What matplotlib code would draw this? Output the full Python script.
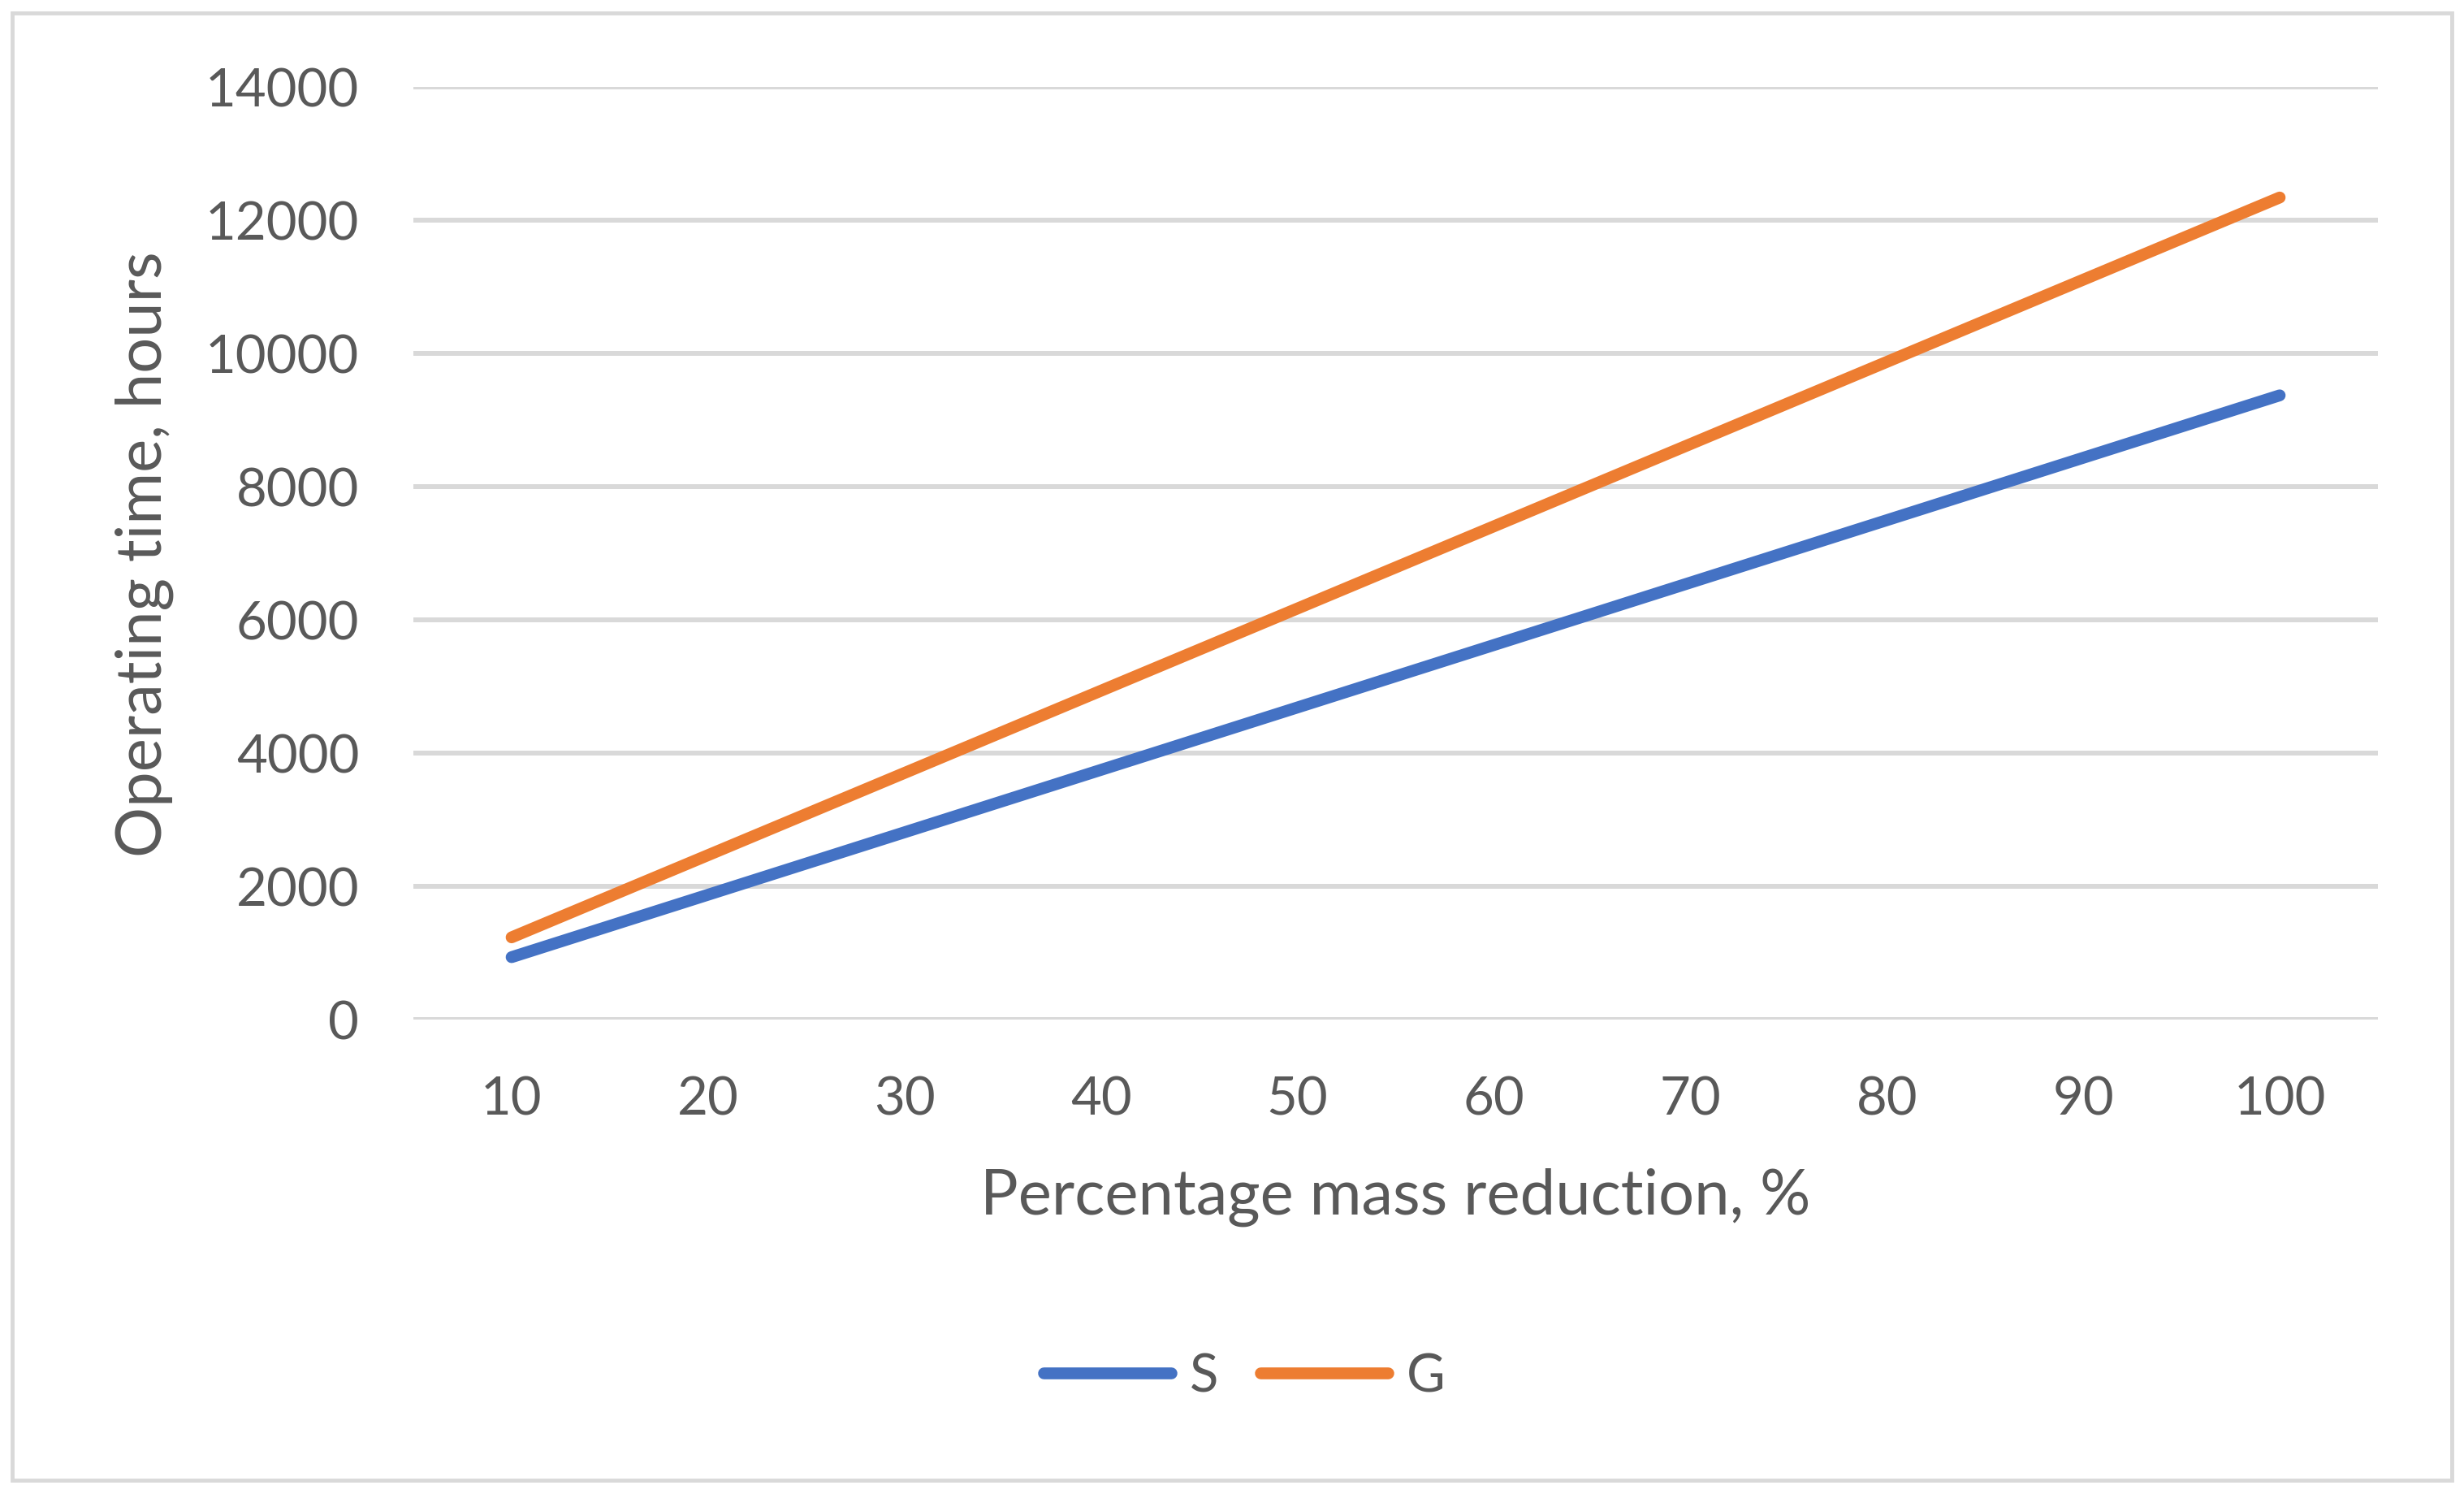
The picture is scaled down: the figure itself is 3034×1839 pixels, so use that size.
import matplotlib
matplotlib.use("Agg")
import matplotlib.pyplot as plt
from matplotlib.patches import Rectangle

reduction = [10, 20, 30, 40, 50, 60, 70, 80, 90, 100]
s_hours = [937, 1874, 2811, 3748, 4685, 5622, 6559, 7496, 8433, 9370]
g_hours = [1234, 2468, 3702, 4936, 6170, 7404, 8638, 9872, 11106, 12340]
y_ticks = [0, 2000, 4000, 6000, 8000, 10000, 12000, 14000]

plt.rcParams['font.family'] = ['Lato', 'DejaVu Sans']
TXT = '#595959'
GRID = '#D9D9D9'

fig = plt.figure(figsize=(30.34, 18.4), dpi=100)
fig.patches.append(Rectangle((15/3034, 17/1840), (3019-15)/3034, (1823-17)/1840,
                             transform=fig.transFigure, fill=False,
                             edgecolor=GRID, linewidth=3.5, zorder=0))

ax = fig.add_axes([509/3034, 1 - 1256/1840, (2928-509)/3034, (1256-108)/1840])
xpos = list(range(1, len(reduction) + 1))
ax.plot(xpos, s_hours, color='#4472C4', lw=10.5, solid_capstyle='round', label='S', zorder=3)
ax.plot(xpos, g_hours, color='#ED7D31', lw=10.5, solid_capstyle='round', label='G', zorder=3)

ax.set_xlim(0.5, len(reduction) + 0.5)
ax.set_ylim(0, 14000)
ax.set_yticks(y_ticks)
ax.set_yticklabels([str(v) for v in y_ticks])
ax.set_xticks(xpos)
ax.set_xticklabels([str(v) for v in reduction])
ax.grid(axis='y', color=GRID, lw=4.3)
ax.set_axisbelow(True)
for sp in ax.spines.values():
    sp.set_visible(False)
ax.tick_params(axis='both', length=0, labelsize=47, colors=TXT)
ax.tick_params(axis='x', pad=49)
ax.tick_params(axis='y', pad=48)

ax.set_xlabel('Percentage mass reduction, %', fontsize=56, color=TXT)
ax.xaxis.set_label_coords(0.5, -(1474-1256)/(1256-108), transform=ax.transAxes)
ax.set_ylabel('Operating time, hours', fontsize=56, color=TXT)
ax.yaxis.set_label_coords((178-509)/(2928-509), 0.5, transform=ax.transAxes)
ax.xaxis.label.set_verticalalignment('center')
ax.yaxis.label.set_verticalalignment('center')

leg = fig.legend(loc='center', bbox_to_anchor=(0.505, 1 - 1695/1840), ncol=2,
                 frameon=False, fontsize=47, handlelength=2.4, handletextpad=0.35,
                 columnspacing=0.8, labelcolor=TXT)

fig.savefig('out.png', dpi=100, facecolor='white')
